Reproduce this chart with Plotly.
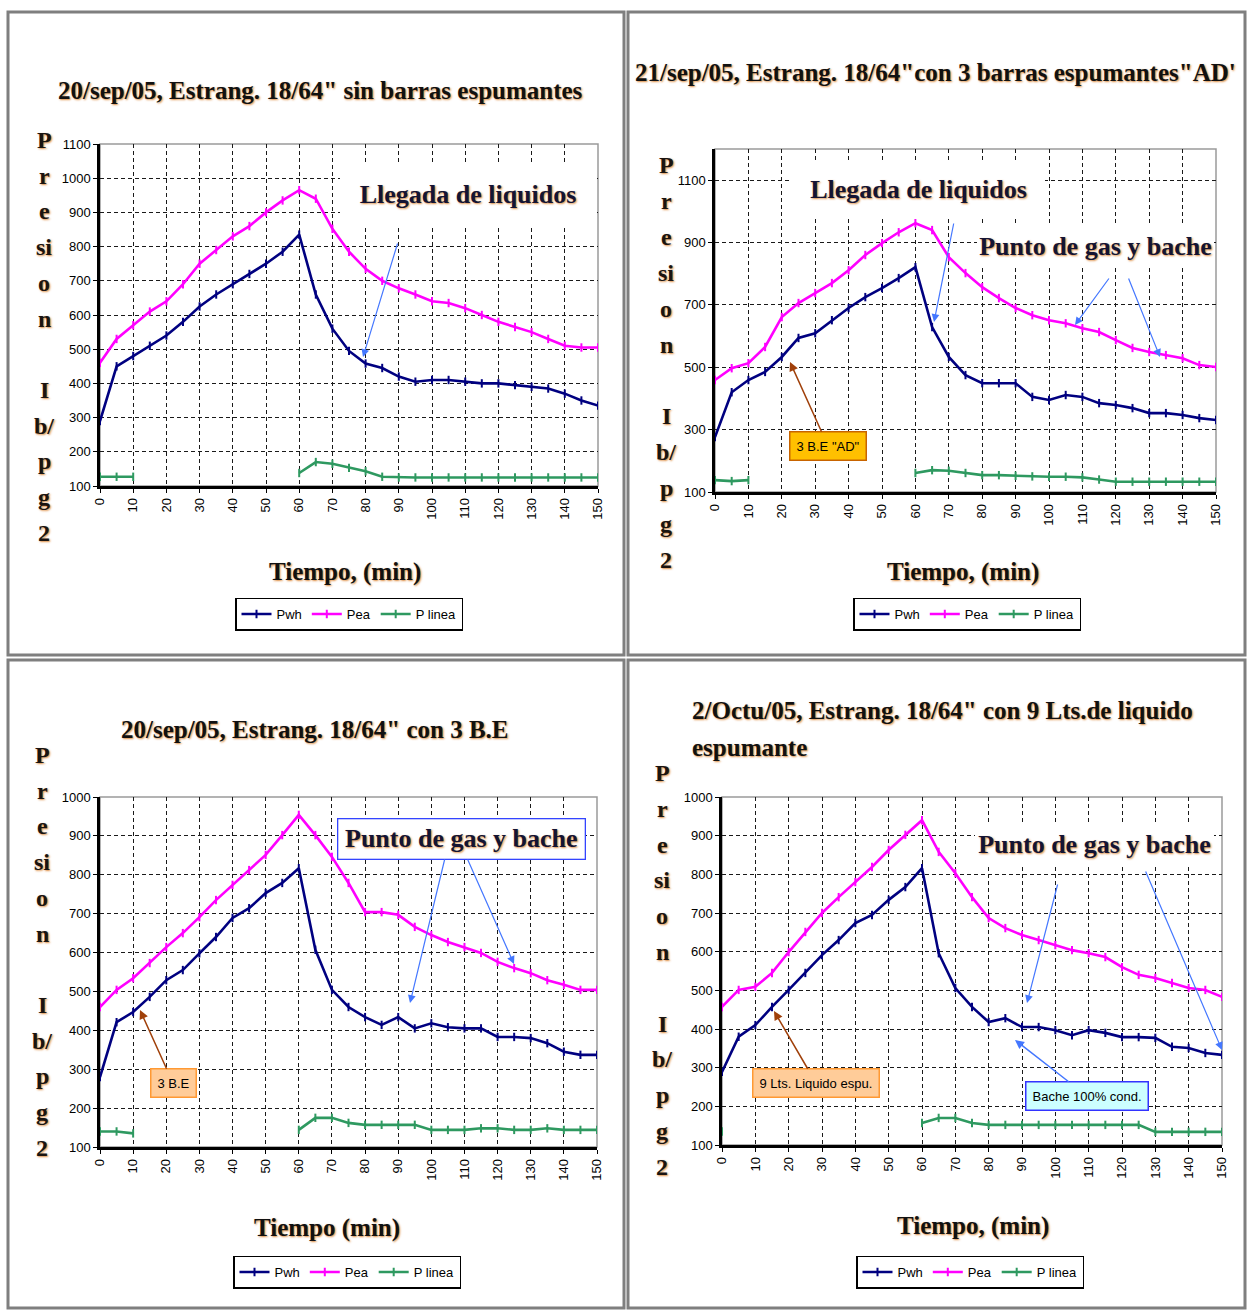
import plotly.graph_objects as go

# ---------------- data ----------------
t = [0, 5, 10, 15, 20, 25, 30, 35, 40, 45, 50, 55, 60, 65, 70, 75, 80, 85, 90, 95,
     100, 105, 110, 115, 120, 125, 130, 135, 140, 145, 150]

x_ticks = [0, 10, 20, 30, 40, 50, 60, 70, 80, 90, 100, 110, 120, 130, 140, 150]
series_names = ["Pwh", "Pea", "P linea"]

titles = ['20/sep/05, Estrang. 18/64" sin barras espumantes',
          '21/sep/05, Estrang. 18/64"con 3 barras espumantes"AD\'',
          '20/sep/05, Estrang. 18/64" con 3 B.E',
          '2/Octu/05, Estrang. 18/64" con 9 Lts.de liquido']
title4_line2 = "espumante"
xtitles = ["Tiempo, (min)", "Tiempo, (min)", "Tiempo (min)", "Tiempo, (min)"]
ytitle_letters = ["P", "r", "e", "si", "o", "n", "", "I", "b/", "p", "g", "2"]

# panel 1
pwh1 = [290, 450, 480, 510, 540, 580, 625, 660, 690, 720, 750, 785, 835, 660, 560, 495,
        458, 445, 420, 405, 410, 410, 405, 400, 400, 395, 390, 385, 370, 350, 335]
pea1 = [460, 530, 570, 610, 640, 690, 750, 790, 830, 860, 900, 935, 965, 940, 852, 785,
        735, 700, 678, 660, 640, 635, 620, 600, 580, 565, 550, 530, 510, 505, 505]
plin1 = [127, 127, 127, None, None, None, None, None, None, None, None, None, 138, 170,
         165, 153, 143, 127, 125, 125, 125, 125, 125, 125, 125, 125, 125, 125, 125, 125, 125]
# panel 2
pwh2 = [276, 420, 459, 485, 533, 594, 609, 651, 690, 725, 754, 786, 821, 629, 533, 475,
        449, 449, 449, 405, 395, 411, 405, 385, 379, 369, 353, 353, 347, 337, 331]
pea2 = [459, 497, 513, 565, 661, 706, 738, 770, 811, 860, 898, 933, 962, 940, 853, 802,
        757, 722, 690, 667, 651, 641, 625, 613, 587, 562, 549, 539, 529, 507, 501]
plin2 = [138, 135, 138, None, None, None, None, None, None, None, None, None, 161, 170,
         168, 161, 154, 154, 152, 150, 149, 149, 147, 140, 133, 133, 133, 133, 133, 133, 133]
# panel 3
pwh3 = [280, 421, 447, 486, 529, 555, 598, 640, 689, 714, 753, 779, 817, 607, 504, 460,
        434, 414, 434, 405, 418, 408, 405, 405, 383, 383, 380, 367, 345, 337, 337]
pea3 = [460, 504, 534, 573, 614, 650, 691, 735, 774, 812, 851, 902, 954, 902, 846, 779,
        704, 704, 697, 666, 645, 627, 614, 599, 576, 560, 547, 529, 517, 504, 504]
plin3 = [140, 140, 135, None, None, None, None, None, None, None, None, None, 144, 175,
         175, 162, 157, 157, 157, 157, 144, 144, 144, 148, 148, 144, 144, 148, 144, 144, 144]
# panel 4
pwh4 = [289, 380, 410, 457, 501, 545, 591, 630, 674, 695, 734, 767, 816, 596, 506, 457,
        418, 428, 405, 405, 397, 384, 397, 390, 379, 379, 377, 354, 351, 338, 333]
pea4 = [457, 501, 509, 545, 599, 651, 700, 741, 780, 819, 863, 902, 940, 858, 803, 741,
        687, 661, 643, 630, 617, 604, 596, 586, 560, 540, 532, 519, 506, 501, 483]
plin4 = [135, None, None, None, None, None, None, None, None, None, None, None, 157, 170,
         170, 157, 152, 152, 152, 152, 152, 152, 152, 152, 152, 152, 134, 134, 134, 134, 134]

data = [(pwh1, pea1, plin1), (pwh2, pea2, plin2), (pwh3, pea3, plin3), (pwh4, pea4, plin4)]

# ---------------- layout helpers ----------------
W, H = 1248, 1312
def fx(px): return px / W
def fy(py): return 1 - py / H

colors = ["#000080", "#FF00FF", "#2E9960"]
SERIF = "Liberation Serif"
NARROW = "Liberation Sans Narrow, Arial Narrow, Liberation Sans"
SHADOW = "1px 1px 2px rgba(215,120,30,0.85)"

# plot-area pixel boxes: left, right, top, bottom ; y ranges
panels = [
    dict(l=100, r=598, t=144, b=486, yr=[100, 1100], dt=100, frame=(8, 12, 624, 655),
         ttl=(320, 90), xt=(345, 572), ylx=44, yl0=140, yls=35.7, leg=(349, 614)),
    dict(l=715, r=1216, t=149, b=492, yr=[100, 1200], dt=200, frame=(628, 12, 1245, 655),
         ttl=(935, 72), xt=(963, 572), ylx=666, yl0=165, yls=35.9, leg=(967, 614)),
    dict(l=100, r=597, t=797, b=1147, yr=[100, 1000], dt=100, frame=(8, 660, 624, 1308),
         ttl=(315, 729), xt=(327, 1228), ylx=42, yl0=755, yls=35.7, leg=(347, 1272)),
    dict(l=722, r=1222, t=797, b=1145, yr=[100, 1000], dt=100, frame=(628, 660, 1245, 1308),
         ttl=(690, 711), xt=(973, 1226), ylx=662, yl0=773, yls=35.8, leg=(970, 1272)),
]

fig = go.Figure()
layout = dict(width=W, height=H, margin=dict(l=0, r=0, t=0, b=0),
              paper_bgcolor="white", plot_bgcolor="white", showlegend=True)
annotations = []
shapes = []

def note(text, cx, cy, font, xanchor="center", **kw):
    d = dict(text=text, x=fx(cx), y=fy(cy), xref="paper", yref="paper",
             showarrow=False, xanchor=xanchor, yanchor="middle", font=font)
    d.update(kw)
    annotations.append(d)

for i, (p, ser) in enumerate(zip(panels, data)):
    n = "" if i == 0 else str(i + 1)
    xa, ya = "xaxis" + n, "yaxis" + n
    lg = "legend" + n
    for j, (vals, name) in enumerate(zip(ser, series_names)):
        fig.add_trace(go.Scatter(
            x=t, y=vals, name=name, mode="lines+markers",
            line=dict(color=colors[j], width=2.6),
            marker=dict(symbol="line-ns", size=6, line=dict(color=colors[j], width=2)),
            xaxis="x" + n, yaxis="y" + n, legend=lg, connectgaps=False))
    grid = dict(showgrid=True, gridcolor="#1a1a1a", gridwidth=1.3, griddash="4px,3px",
                zeroline=False, showline=True, linecolor="black", linewidth=2.5,
                ticks="outside", ticklen=4, tickcolor="black", automargin=False,
                tickfont=dict(family=NARROW, size=13, color="black"))
    layout[xa] = dict(grid, domain=[fx(p["l"]), fx(p["r"])], range=[0, 150],
                      tickvals=x_ticks, tickangle=-90, anchor="y" + n)
    layout[ya] = dict(grid, domain=[fy(p["b"]), fy(p["t"])], range=p["yr"],
                      tick0=100, dtick=p["dt"], anchor="x" + n)
    # plot area grey border (top/right)
    shapes.append(dict(type="rect", xref="paper", yref="paper",
                       x0=fx(p["l"]), x1=fx(p["r"]), y0=fy(p["b"]), y1=fy(p["t"]),
                       line=dict(color="#9a9a9a", width=1.5), layer="below"))
    # panel frame
    f = p["frame"]
    shapes.append(dict(type="rect", xref="paper", yref="paper",
                       x0=fx(f[0]), x1=fx(f[2]), y0=fy(f[3]), y1=fy(f[1]),
                       line=dict(color="#7f7f7f", width=3)))
    # legend
    layout[lg] = dict(orientation="h", x=fx(p["leg"][0]), y=fy(p["leg"][1]),
                      xanchor="center", yanchor="middle", bgcolor="white",
                      bordercolor="black", borderwidth=1.5,
                      font=dict(family=NARROW, size=13, color="black"),
                      itemwidth=30, tracegroupgap=0)
    # title
    tfont = dict(family=SERIF, size=25, color="#111", weight="bold", shadow=SHADOW)
    if i < 3:
        note(titles[i], p["ttl"][0], p["ttl"][1], tfont)
    else:
        note(titles[i], p["ttl"][0], p["ttl"][1], tfont, xanchor="left")
        note(title4_line2, p["ttl"][0], 747, tfont, xanchor="left")
    # x title
    note(xtitles[i], p["xt"][0], p["xt"][1],
         dict(family=SERIF, size=25, color="#111", weight="bold", shadow=SHADOW))
    # vertical y title letters
    lfont = dict(family=SERIF, size=24, color="#1a1410", weight="bold", shadow=SHADOW)
    for k, ch in enumerate(ytitle_letters):
        if ch:
            note(ch, p["ylx"], p["yl0"] + k * p["yls"], lfont, borderpad=0)

BIG = dict(family=SERIF, size=26, color="#141433", weight="bold", shadow=SHADOW)
ARROW = "#4477FF"

def label(text, x0, y0, x1, y1, border=None):
    """large label on a white patch (pixel box)"""
    note(text, (x0 + x1) / 2, (y0 + y1) / 2, BIG, width=x1 - x0, height=y1 - y0,
         bgcolor="white", borderpad=0, bordercolor=border or "rgba(0,0,0,0)",
         borderwidth=1.3 if border else 0)

def arrow(hx, hy, tx, ty, color=ARROW, width=1.2):
    annotations.append(dict(text="", x=fx(hx), y=fy(hy), xref="paper", yref="paper",
                            showarrow=True, ax=tx - hx, ay=ty - hy, arrowhead=2,
                            arrowsize=1.3, arrowwidth=width, arrowcolor=color))

def box(text, cx, cy, hx, hy, bg, border, acolor):
    annotations.append(dict(text=text, x=fx(hx), y=fy(hy), xref="paper", yref="paper",
                            showarrow=True, ax=cx - hx, ay=cy - hy, arrowhead=2,
                            arrowsize=1.2, arrowwidth=1.5, arrowcolor=acolor,
                            bgcolor=bg, bordercolor=border, borderwidth=1.5, borderpad=6,
                            font=dict(family=NARROW, size=13, color="black")))

# panel 1
label("Llegada de liquidos", 340, 162, 596, 226)
arrow(363, 357, 398, 242)
# panel 2
label("Llegada de liquidos", 792, 162, 1045, 216)
label("Punto de gas y bache", 977, 226, 1214, 266)
arrow(934, 322, 954, 222)
arrow(1075, 325, 1110, 277)
arrow(1160, 357, 1128, 277)
box('3 B.E "AD"', 828, 446, 790, 362, "#FFC000", "#C86400", "#A0400A")
# panel 3
label("Punto de gas y bache", 338, 819, 584, 858, border="#3344FF")
arrow(410, 1003, 445, 858)
arrow(514, 964, 467, 858)
box("3 B.E", 173, 1083, 140, 1010, "#FFCC99", "#FF9933", "#A0400A")
# panel 4
label("Punto de gas y bache", 975, 823, 1214, 865)
arrow(1027, 1003, 1058, 883)
arrow(1222, 1050, 1145, 870)
box("9 Lts. Liquido espu.", 816, 1083, 774, 1011, "#FFCC99", "#FF9933", "#A0400A")
box("Bache 100% cond.", 1087, 1096, 1015, 1040, "#CCFFFF", "#3333FF", ARROW)

layout["annotations"] = annotations
layout["shapes"] = shapes
fig.update_layout(**layout)
fig.write_html("out.html", config={"displayModeBar": False},
               post_script="document.body.style.margin='0';"
                           "document.body.style.overflow='hidden';"
                           "document.documentElement.style.overflow='hidden';")
